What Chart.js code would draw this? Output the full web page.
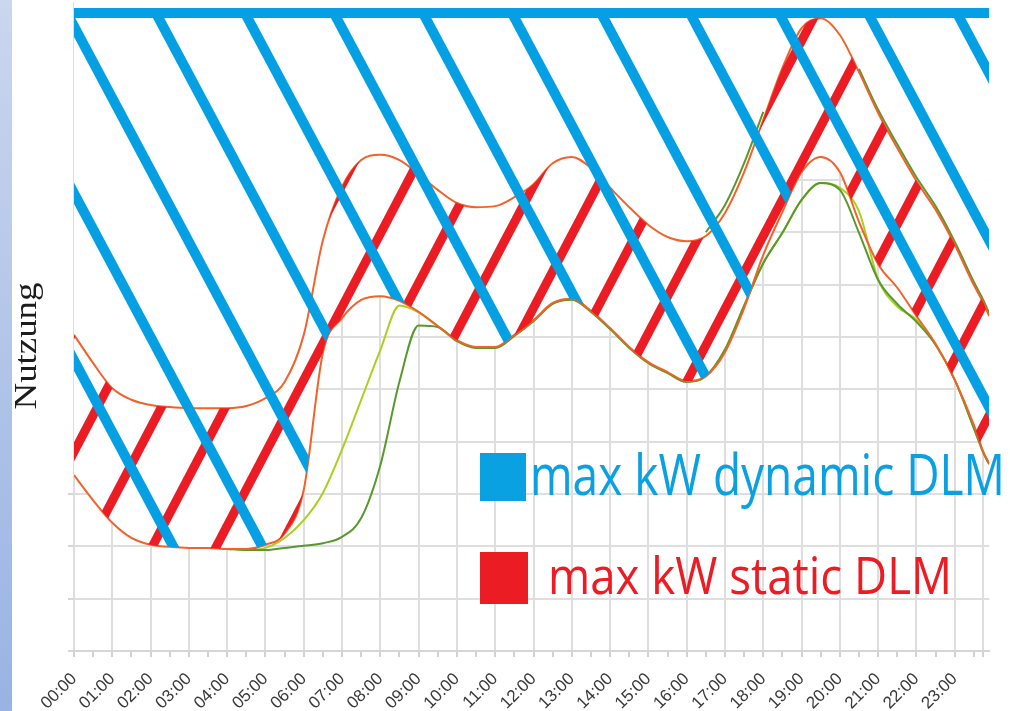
<!DOCTYPE html>
<html>
<head>
<meta charset="utf-8">
<script src="https://cdn.jsdelivr.net/npm/chart.js@4.4.0/dist/chart.umd.min.js"></script>
<style>
html,body{margin:0;padding:0;background:#ffffff;}
#wrap{width:1010px;height:711px;position:relative;}
</style>
</head>
<body>
<div id="wrap"><canvas id="c"></canvas></div>
<script>
// ---- data ----
const timeLabels = ['00:00','01:00','02:00','03:00','04:00','05:00','06:00','07:00','08:00','09:00','10:00','11:00',
                    '12:00','13:00','14:00','15:00','16:00','17:00','18:00','19:00','20:00','21:00','22:00','23:00'];
const hours = [0,0.5,1,1.5,2,2.5,3,3.5,4,4.5,5,5.5,6,6.5,7,7.5,8,8.5,9,9.5,10,10.5,11,11.5,
               12,12.5,13,13.5,14,14.5,15,15.5,16,16.5,17,17.5,18,18.5,19,19.5,20,20.5,21,21.5,22,22.5,23,23.5,23.75,23.9];
const staticUpper = [6.04,5.50,5.02,4.80,4.70,4.66,4.64,4.64,4.64,4.68,4.83,5.14,
                     6.04,7.85,8.87,9.38,9.48,9.38,9.11,8.81,8.56,8.48,8.50,8.67,
                     8.92,9.32,9.44,9.23,8.85,8.48,8.14,7.91,7.83,7.93,8.37,9.15,
                     10.15,11.14,11.90,12.09,11.77,11.06,10.28,9.61,8.98,8.43,7.76,6.99,6.65,6.40];
const staticLower = [3.36,2.88,2.45,2.16,2.03,1.99,1.97,1.97,1.95,1.95,2.03,2.24,
                     3.08,5.70,6.36,6.71,6.78,6.69,6.48,6.21,5.94,5.81,5.81,6.04,
                     6.32,6.65,6.73,6.50,6.17,5.81,5.52,5.33,5.16,5.25,5.71,6.55,
                     7.57,8.39,9.15,9.44,9.15,8.20,7.39,6.94,6.40,5.87,5.18,4.32,3.80,3.59];
const usageDark = [null,null,null,null,null,null,null,null,1.95,1.93,1.93,1.97,
                   2.01,2.06,2.18,2.54,3.55,5.15,6.22,6.19,5.92,5.79,5.79,6.02,
                   6.30,6.63,6.71,6.48,6.15,5.79,5.50,5.31,5.14,5.25,5.76,6.60,
                   7.41,7.99,8.62,8.94,8.81,7.99,7.09,6.63,6.29,5.85,5.18,4.26,3.78,3.57];
const usageLight = [null,null,null,null,null,null,null,null,1.95,1.93,1.97,2.16,
                    2.50,3.02,3.85,4.80,5.75,6.60,6.47,6.20,5.93,5.80,5.80,6.03,
                    6.31,6.64,6.72,6.49,6.16,5.80,5.51,5.32,5.15,5.25,5.76,6.60,
                    7.41,7.99,8.62,8.94,8.85,8.40,7.10,6.58,6.33,5.85,5.18,4.26,3.78,3.57];
const usagePeak = [null,null,null,null,null,null,null,null,null,null,null,null,
                   null,null,null,null,null,null,null,null,null,null,null,null,
                   null,null,null,null,null,null,null,null,null,8.00,8.52,9.32,
                   10.30,null,null,null,null,11.12,10.34,9.68,9.05,8.50,7.82,7.05,6.70,6.45];
const dynamicMax = 12.19;
const legendLabels = ['max kW dynamic DLM', 'max kW static DLM'];
const legendColors = ['#0aa1e2', '#ec1c24'];
const yTitle = 'Nutzung';

// ---- styles ----
const BLUE = '#05a0e3', RED = '#ec1c24', ORANGE = '#f2622a', DGREEN = '#58982c', LGREEN = '#a9d021';
const GRID = '#dedede';

function pts(arr){ return hours.map((h,i)=>({x:h, y:arr[i]})); }

function makeHatch(w, h, color, lw, x0, dir){
  const c = document.createElement('canvas'); c.width = w; c.height = h;
  const g = c.getContext('2d');
  g.strokeStyle = color; g.lineWidth = lw; g.lineCap = 'butt';
  for (let k = -4; k <= 4; k++){
    const xa = x0 + k*w;
    g.beginPath();
    g.moveTo(xa - dir*w, -h);
    g.lineTo(xa + 2*dir*w, 2*h);
    g.stroke();
  }
  return g.createPattern(c, 'repeat');
}
const blueHatch = makeHatch(89, 167, BLUE, 10, 60, 1);
const redHatch  = makeHatch(64, 122, RED, 9, 55, -1);

const decor = {
  id: 'decor',
  beforeDraw(chart){
    const ctx = chart.ctx;
    const gr = ctx.createLinearGradient(0, 0, 0, chart.height);
    gr.addColorStop(0, '#cbd6ef'); gr.addColorStop(1, '#99b3e2');
    ctx.save(); ctx.fillStyle = gr; ctx.fillRect(0, 0, 12, chart.height); ctx.restore();
  },
  afterDraw(chart){
    const ctx = chart.ctx;
    // y title
    ctx.save();
    ctx.font = '32px "Liberation Serif"';
    ctx.fillStyle = '#1c1c1c';
    ctx.translate(36, 346); ctx.rotate(-Math.PI/2);
    const tw = ctx.measureText(yTitle).width;
    ctx.scale(127/tw, 1);
    ctx.textAlign = 'center'; ctx.textBaseline = 'alphabetic';
    ctx.fillText(yTitle, 0, 0);
    ctx.restore();
    // legend
    const items = [
      {box:[480,453,46,48], x:530, y:495, w:475, size:56},
      {box:[480,552,48,52], x:548, y:594, w:404, size:52}
    ];
    items.forEach((it, i) => {
      ctx.save();
      ctx.fillStyle = legendColors[i];
      ctx.fillRect(it.box[0], it.box[1], it.box[2], it.box[3]);
      ctx.font = it.size + 'px "Open Sans"';
      const mw = ctx.measureText(legendLabels[i]).width;
      ctx.translate(it.x, it.y); ctx.scale(it.w/mw, 1);
      ctx.textAlign = 'left'; ctx.textBaseline = 'alphabetic';
      ctx.fillText(legendLabels[i], 0, 0);
      ctx.restore();
    });
  }
};

const lineBase = {pointRadius:0, pointHoverRadius:0, cubicInterpolationMode:'monotone', fill:false};

new Chart(document.getElementById('c'), {
  type: 'line',
  data: {
    datasets: [
      Object.assign({}, lineBase, {label: legendLabels[0], data:[{x:0,y:dynamicMax},{x:23.9,y:dynamicMax}],
        borderColor: BLUE, borderWidth: 10, borderCapStyle:'butt', order: 0}),
      Object.assign({}, lineBase, {label:'static upper', data: pts(staticUpper), borderColor: ORANGE, borderWidth: 2, order: 5}),
      Object.assign({}, lineBase, {label:'static lower', data: pts(staticLower), borderColor: ORANGE, borderWidth: 2, order: 6}),
      Object.assign({}, lineBase, {label:'usage', data: pts(usageDark), borderColor: DGREEN, borderWidth: 2, order: 7}),
      Object.assign({}, lineBase, {label:'usage 2', data: pts(usageLight), borderColor: LGREEN, borderWidth: 2, order: 8}),
      Object.assign({}, lineBase, {label:'usage peak', data: pts(usagePeak), borderColor: DGREEN, borderWidth: 2, order: 8}),
      Object.assign({}, lineBase, {label:'mask', data: pts(staticLower), borderWidth: 0, borderColor:'rgba(0,0,0,0)',
        backgroundColor:'#ffffff', fill:'end', order: 20}),
      Object.assign({}, lineBase, {label: legendLabels[1], data: pts(staticUpper), borderWidth: 0, borderColor:'rgba(0,0,0,0)',
        backgroundColor: redHatch, fill: 2, order: 3}),
      Object.assign({}, lineBase, {label:'dynamic area', data: pts(staticLower), borderWidth: 0, borderColor:'rgba(0,0,0,0)',
        backgroundColor: blueHatch, fill: {value: dynamicMax}, order: 2})
    ]
  },
  options: {
    responsive: true, maintainAspectRatio: false, animation: false,
    layout: {padding: {left: 0, right: 20, top: 2, bottom: 0}},
    plugins: {legend: {display: false}, tooltip: {enabled: false}},
    events: [],
    scales: {
      x: {
        type: 'linear', min: 0, max: 23.9,
        afterBuildTicks(scale){
          const t = [];
          for (let i = 0; i < timeLabels.length; i++){ t.push({value:i}); t.push({value:i+0.5}); }
          t.push({value:23.75});
          scale.ticks = t;
        },
        afterFit(scale){ scale.height = 60; },
        grid: {
          color: ctx => (ctx.tick && (Number.isInteger(ctx.tick.value) || ctx.tick.value === 23.75)) ? GRID : 'rgba(0,0,0,0)',
          tickColor: '#d2d2d2', lineWidth: 2, tickLength: 6, drawTicks: true
        },
        border: {display: true, color: '#d6d6d6', width: 2},
        ticks: {
          autoSkip: false, maxRotation: 45, minRotation: 45, padding: 12,
          color: '#383838', font: {family: 'Liberation Sans', size: 17},
          callback: v => (Number.isInteger(v) && v < timeLabels.length) ? timeLabels[v] : ''
        }
      },
      y: {
        type: 'linear', min: 0, max: 12.4,
        afterFit(scale){ scale.width = 74; },
        ticks: {display: false, stepSize: 1},
        grid: {
          color: ctx => (ctx.tick && ctx.tick.value <= 12) ? GRID : 'rgba(0,0,0,0)',
          tickColor: ctx => (ctx.tick && ctx.tick.value <= 3) ? '#d6d6d6' : 'rgba(0,0,0,0)',
          lineWidth: 2, tickLength: 6
        },
        border: {display: false}
      }
    }
  },
  plugins: [decor]
});
</script>
</body>
</html>
